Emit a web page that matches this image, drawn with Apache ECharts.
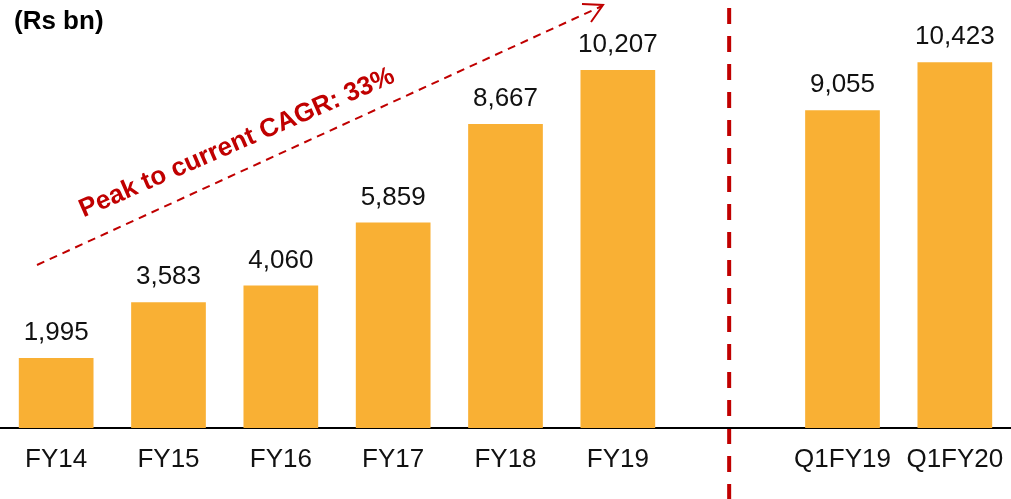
<!DOCTYPE html>
<html>
<head>
<meta charset="utf-8">
<style>
  html, body { margin: 0; padding: 0; background: #fff; }
  #main { width: 1011px; height: 499px; }
</style>
<script src="https://cdn.jsdelivr.net/npm/echarts@6/dist/echarts.min.js"></script>
</head>
<body>
<div id="main"></div>
<script>
// categories (empty slot separates annual from quarterly figures)
var categories = ['FY14', 'FY15', 'FY16', 'FY17', 'FY18', 'FY19', '', 'Q1FY19', 'Q1FY20'];
var values = [1995, 3583, 4060, 5859, 8667, 10207, null, 9055, 10423];
var unitLabel = '(Rs bn)';
var cagrText = 'Peak to current CAGR: 33%';

var red = '#C00000';
var font = '"Liberation Sans", Arial, sans-serif';

var myChart = echarts.init(document.getElementById('main'));
myChart.setOption({
  animation: false,
  grid: { left: 0, right: -4, top: 7, bottom: 71, containLabel: false },
  xAxis: {
    type: 'category',
    data: categories,
    axisLine: { lineStyle: { color: '#000', width: 2 } },
    axisTick: { show: false },
    axisLabel: { color: '#111', fontSize: 26, fontFamily: font, margin: 19, interval: 0 }
  },
  yAxis: {
    type: 'value',
    min: 0,
    max: 12000,
    show: false,
    splitLine: { show: false }
  },
  series: [{
    type: 'bar',
    data: values,
    barWidth: '66.5%',
    itemStyle: { color: '#F9B034' },
    label: {
      show: true,
      position: 'top',
      distance: 12,
      color: '#111',
      fontSize: 26,
      fontFamily: font,
      formatter: function (p) {
        return p.value == null ? '' : p.value.toLocaleString('en-US');
      }
    }
  }]
});

// divider between annual and quarterly bars, arrow and CAGR note
var divX = myChart.convertToPixel({ xAxisIndex: 0 }, 6) - 1;
myChart.setOption({
  graphic: [
    {
      type: 'text', left: 14, top: 9,
      style: { text: unitLabel, fill: '#000', font: 'bold 26px ' + font }
    },
    {
      type: 'line',
      shape: { x1: divX, y1: 8, x2: divX, y2: 499 },
      style: { stroke: red, lineWidth: 4, lineDash: [16, 12] }
    },
    {
      type: 'line',
      shape: { x1: 37, y1: 265, x2: 602, y2: 6 },
      style: { stroke: red, lineWidth: 2, lineDash: [8, 6] }
    },
    {
      type: 'polyline',
      shape: { points: [[582, 4], [603, 5], [591, 22]] },
      style: { stroke: red, lineWidth: 2, fill: null }
    },
    {
      type: 'text',
      x: 237, y: 143,
      rotation: 23.5 * Math.PI / 180,
      style: {
        text: cagrText, fill: red, font: 'bold 26px ' + font,
        align: 'center', verticalAlign: 'middle'
      }
    }
  ]
});
</script>
</body>
</html>
